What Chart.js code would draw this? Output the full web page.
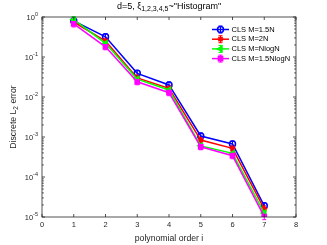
<!DOCTYPE html>
<html>
<head>
<meta charset="utf-8">
<script src="https://cdn.jsdelivr.net/npm/chart.js@4"></script>
<style>
  body { margin: 0; background: #fff; }
  canvas { display: block; }
</style>
</head>
<body>
<canvas id="errChart" width="327" height="245"></canvas>
<script>
// Convergence of discrete L2 error vs polynomial order
const orders = [1, 2, 3, 4, 5, 6, 7];
const cls15N = [0.80, 0.32, 0.039, 0.020, 0.00106, 0.00067, 1.9e-5];
const cls2N = [0.75, 0.25, 0.030, 0.0165, 0.00084, 0.00052, 1.6e-5];
const clsNlogN = [0.86, 0.22, 0.028, 0.015, 0.00060, 0.00039, 1.26e-5];
const cls15NlogN = [0.67, 0.18, 0.024, 0.0128, 0.00057, 0.00034, 1.02e-5];
const seriesNames = ['CLS M=1.5N', 'CLS M=2N', 'CLS M=NlogN', 'CLS M=1.5NlogN'];
const xTicks = [0, 1, 2, 3, 4, 5, 6, 7, 8];
const yExps = [0, -1, -2, -3, -4, -5];

const colors = ['#0000ff', '#ff0000', '#00ff00', '#ff00ff'];
const shapes = ['circle', 'star', 'triangle', 'rect'];
const rots = [0, 0, -90, 0];
const FONT = "'Liberation Sans', Arial, sans-serif";
const AXIS = '#262626';

function toPoints(vals) {
    return orders.map((o, i) => ({ x: o, y: vals[i] }));
}

const allSeries = [cls15N, cls2N, clsNlogN, cls15NlogN];
const datasets = allSeries.map((vals, i) => ({
    label: seriesNames[i],
    data: toPoints(vals),
    borderColor: colors[i],
    backgroundColor: i === 0 ? 'rgba(0,0,0,0)' : colors[i],
    pointBorderColor: colors[i],
    pointBackgroundColor: i === 0 ? 'rgba(0,0,0,0)' : colors[i],
    borderWidth: 1.5,
    pointRadius: 3,
    pointBorderWidth: 1.5,
    pointStyle: shapes[i],
    rotation: rots[i],
    tension: 0,
    order: 4 - i
}));

// draw "base^exp" right-aligned at x
function drawPow(ctx, base, exp, x, y) {
    ctx.font = '7.5px ' + FONT;
    const bw = ctx.measureText(base).width;
    ctx.font = '5.5px ' + FONT;
    const ew = ctx.measureText(exp).width;
    ctx.textAlign = 'left';
    ctx.textBaseline = 'middle';
    ctx.fillText(exp, x - ew, y - 3);
    ctx.font = '7.5px ' + FONT;
    ctx.fillText(base, x - ew - bw, y + 1);
}

function drawMarker(ctx, i, x, y) {
    Chart.helpers.drawPoint(ctx, {
        pointStyle: shapes[i], radius: 3, rotation: rots[i], borderWidth: 1.5
    }, x, y);
}

// text with a subscript part in the middle, left-aligned at x
function drawSubText(ctx, p1, sub, p2, x, y, size, subSize, drop) {
    ctx.font = size + 'px ' + FONT;
    const w1 = ctx.measureText(p1).width;
    ctx.font = subSize + 'px ' + FONT;
    const w2 = ctx.measureText(sub).width;
    ctx.textAlign = 'left';
    ctx.font = size + 'px ' + FONT;
    ctx.fillText(p1, x, y);
    ctx.font = subSize + 'px ' + FONT;
    ctx.fillText(sub, x + w1, y + drop);
    ctx.font = size + 'px ' + FONT;
    ctx.fillText(p2, x + w1 + w2, y);
}

function subTextWidth(ctx, p1, sub, p2, size, subSize) {
    ctx.font = size + 'px ' + FONT;
    const w = ctx.measureText(p1).width + ctx.measureText(p2).width;
    ctx.font = subSize + 'px ' + FONT;
    return w + ctx.measureText(sub).width;
}

const decorPlugin = {
    id: 'decor',
    beforeDatasetsDraw(chart) {
        // small error bars under each marker
        const ctx = chart.ctx;
        const xs = chart.scales.x, ys = chart.scales.y;
        ctx.save();
        ctx.lineWidth = 1;
        allSeries.forEach((vals, i) => {
            ctx.strokeStyle = colors[i];
            vals.forEach((v, j) => {
                const px = xs.getPixelForValue(orders[j]);
                const py = ys.getPixelForValue(v);
                ctx.beginPath();
                ctx.moveTo(px, py - 3); ctx.lineTo(px, py + 3);
                ctx.moveTo(px - 2, py - 3); ctx.lineTo(px + 2, py - 3);
                ctx.moveTo(px - 2, py + 3); ctx.lineTo(px + 2, py + 3);
                ctx.stroke();
            });
        });
        ctx.restore();
    },
    afterDraw(chart) {
        const ctx = chart.ctx;
        const a = chart.chartArea;
        const xs = chart.scales.x, ys = chart.scales.y;
        ctx.save();
        ctx.strokeStyle = AXIS;
        ctx.fillStyle = AXIS;
        ctx.lineWidth = 0.8;
        ctx.strokeRect(a.left, a.top, a.right - a.left, a.bottom - a.top);

        // x ticks, inward on top and bottom
        ctx.beginPath();
        xTicks.forEach(t => {
            const px = xs.getPixelForValue(t);
            ctx.moveTo(px, a.bottom); ctx.lineTo(px, a.bottom - 3);
            ctx.moveTo(px, a.top); ctx.lineTo(px, a.top + 3);
        });
        // y ticks, major and minor
        yExps.forEach(e => {
            const py = ys.getPixelForValue(Math.pow(10, e));
            ctx.moveTo(a.left, py); ctx.lineTo(a.left + 3, py);
            ctx.moveTo(a.right, py); ctx.lineTo(a.right - 3, py);
            if (e > -5) {
                for (let m = 2; m <= 9; m++) {
                    const pm = ys.getPixelForValue(m * Math.pow(10, e - 1));
                    ctx.moveTo(a.left, pm); ctx.lineTo(a.left + 1.8, pm);
                    ctx.moveTo(a.right, pm); ctx.lineTo(a.right - 1.8, pm);
                }
            }
        });
        ctx.stroke();

        // tick labels
        ctx.font = '7.5px ' + FONT;
        ctx.textAlign = 'center';
        ctx.textBaseline = 'top';
        xTicks.forEach(t => {
            ctx.fillText(String(t), xs.getPixelForValue(t), a.bottom + 4);
        });
        yExps.forEach(e => {
            drawPow(ctx, '10', String(e), a.left - 4, ys.getPixelForValue(Math.pow(10, e)));
        });

        // x label
        ctx.font = '8.7px ' + FONT;
        ctx.textAlign = 'center';
        ctx.textBaseline = 'middle';
        ctx.fillText('polynomial order i', (a.left + a.right) / 2, 239);

        // y label with subscript, rotated
        ctx.save();
        ctx.translate(14, (a.top + a.bottom) / 2);
        ctx.rotate(-Math.PI / 2);
        const yw = subTextWidth(ctx, 'Discrete L', '2', ' error', 8.7, 6.5);
        drawSubText(ctx, 'Discrete L', '2', ' error', -yw / 2, 0, 8.7, 6.5, 2.5);
        ctx.restore();

        // title with subscript
        ctx.fillStyle = '#000';
        const t1 = 'd=5, \u03be', tsub = '1,2,3,4,5', t2 = '~"Histogram"';
        const tw = subTextWidth(ctx, t1, tsub, t2, 9, 7);
        drawSubText(ctx, t1, tsub, t2, (a.left + a.right) / 2 - tw / 2, 6.5, 9, 7, 3);

        // legend
        const ly = [29.5, 39.2, 48.9, 58.6];
        seriesNames.forEach((name, i) => {
            const y = ly[i];
            ctx.strokeStyle = colors[i];
            ctx.fillStyle = i === 0 ? 'rgba(0,0,0,0)' : colors[i];
            ctx.lineWidth = 1.5;
            ctx.beginPath();
            ctx.moveTo(212, y); ctx.lineTo(229, y);
            ctx.stroke();
            ctx.lineWidth = 1;
            ctx.beginPath();
            ctx.moveTo(220.5, y - 3.5); ctx.lineTo(220.5, y + 3.5);
            ctx.moveTo(218.5, y - 3.5); ctx.lineTo(222.5, y - 3.5);
            ctx.moveTo(218.5, y + 3.5); ctx.lineTo(222.5, y + 3.5);
            ctx.stroke();
            ctx.lineWidth = 1.5;
            drawMarker(ctx, i, 220.5, y);
            ctx.fillStyle = '#000';
            ctx.font = '7.5px ' + FONT;
            ctx.textAlign = 'left';
            ctx.textBaseline = 'middle';
            ctx.fillText(name, 231.5, y);
        });
        ctx.restore();
    }
};

new Chart(document.getElementById('errChart'), {
    type: 'line',
    data: { datasets: datasets },
    options: {
        responsive: false,
        animation: false,
        devicePixelRatio: 1,
        layout: { padding: { left: 42, right: 31, top: 17, bottom: 28 } },
        plugins: {
            legend: { display: false },
            title: { display: false },
            tooltip: { enabled: false }
        },
        scales: {
            x: {
                type: 'linear',
                min: 0,
                max: 8,
                grid: { display: false },
                border: { display: false },
                ticks: { display: false },
                afterFit: function(s) { s.height = 0; }
            },
            y: {
                type: 'logarithmic',
                min: 1e-5,
                max: 1,
                grid: { display: false },
                border: { display: false },
                ticks: { display: false },
                afterFit: function(s) { s.width = 0; }
            }
        }
    },
    plugins: [decorPlugin]
});
</script>
</body>
</html>
